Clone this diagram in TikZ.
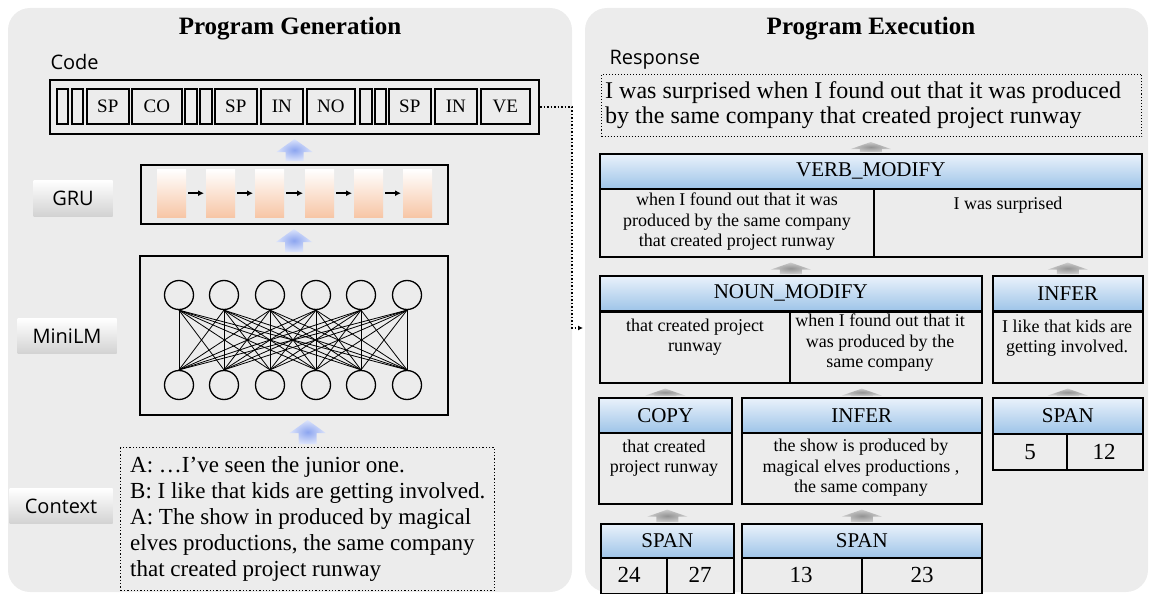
\documentclass[tikz,border=0pt]{standalone}
\usepackage{fontspec}
\setmainfont{Liberation Serif}
\newfontfamily\tagfont{Open Sans}
\usetikzlibrary{positioning,arrows.meta,calc}

\definecolor{panelgray}{RGB}{236,236,236}
\definecolor{hdrtop}{RGB}{234,242,251}
\definecolor{hdrbot}{RGB}{158,196,232}
\definecolor{gruorange}{RGB}{247,198,166}
\definecolor{liftblue}{RGB}{140,165,240}

\tikzset{
  panel/.style={fill=panelgray, rounded corners=22pt},
  ptitle/.style={font=\bfseries\fontsize{25}{28}\selectfont},
  tagtext/.style={font=\tagfont\fontsize{20}{22}\selectfont},
  tagbox/.style={top color=white, bottom color=gray!35, inner sep=0pt, font=\tagfont\fontsize{20}{22}\selectfont},
  tblcell/.style={draw, line width=1.6pt, inner sep=0pt, anchor=north west},
  codecell/.style={tblcell, minimum height=35pt, font=\fontsize{19}{22}\selectfont},
  hdr/.style={tblcell, top color=hdrtop, bottom color=hdrbot, minimum height=35pt, font=\fontsize{21}{24}\selectfont},
  tblbody/.style={tblcell, fill=panelgray},
  txt/.style={align=center, inner sep=0pt, font=\fontsize{18}{20.5}\selectfont},
  num/.style={inner sep=0pt, font=\fontsize{23}{24}\selectfont},
  neuron/.style={circle, draw, line width=1.3pt, minimum size=29pt, inner sep=0pt},
  grubar/.style={top color=white, bottom color=gruorange, minimum width=29pt, minimum height=48pt, inner sep=0pt, anchor=north west},
}

\newcommand{\bluelift}[2]{%
  \path[inner color=liftblue, outer color=liftblue!30!white]
    let \p1=(#1.north), \p2=(#2.south) in
    (\x1-9pt,\y1+3pt) -- (\x1+9pt,\y1+3pt) -- (\x1+9pt,\y2-17pt) -- (\x1+18pt,\y2-17pt)
    -- (\x1,\y2-4pt) -- (\x1-18pt,\y2-17pt) -- (\x1-9pt,\y2-17pt) -- cycle;}
\newcommand{\graylift}[2]{%
  \path[inner color=gray!85, outer color=gray!40]
    let \p1=(#1.north), \p2=(#2.south) in
    (\x1-11pt,\y1+1pt) -- (\x1+11pt,\y1+1pt) -- (\x1+11pt,\y2-12pt) -- (\x1+20pt,\y2-12pt)
    -- (\x1,\y2-5pt) -- (\x1-20pt,\y2-12pt) -- (\x1-11pt,\y2-12pt) -- cycle;}

\begin{document}
\begin{tikzpicture}[x=1pt,y=-1pt]
  \useasboundingbox (0,0) rectangle (1152,594);
  \fill[panel] (8,8) rectangle (572,592);
  \fill[panel] (585,8) rectangle (1148,592);

  % program generation
  \node[ptitle] (gentitle) at (290,29) {Program Generation};
  \node[tagtext, anchor=west] (codetag) at (47,62) {Code};
  \node[draw, line width=2pt, minimum width=489pt, minimum height=54pt, inner sep=0pt, anchor=north west] (code) at (49,79) {};
  \foreach \cx/\cw/\ct [count=\i] in {56/11/{},71/11/{},86/42/SP,131/50/CO,184/12/{},199/12/{},214/42/SP,260/42/IN,306/48/NO,359/12/{},374/11/{},388/42/SP,434/42/IN,480/49/VE}
    \node[codecell, minimum width=\cw pt] (c\i) at (\cx,88) {\ct};

  \node[draw, line width=2pt, minimum width=307pt, minimum height=59pt, anchor=north west] (gru) at (140,164) {};
  \foreach \bx [count=\i] in {157,206,255,305,354,403}
    \node[grubar] (g\i) at (\bx,169) {};
  \foreach \i [evaluate=\i as \j using int(\i+1)] in {1,...,5}
    \draw[line width=1.5pt, -{Latex[length=6pt,width=6pt]}, shorten <=2pt, shorten >=2pt] (g\i) -- (g\j);
  \node[tagbox, minimum width=79pt, minimum height=36pt] (grutag) at (73,198) {GRU};

  \node[draw, line width=2pt, minimum width=308pt, minimum height=159pt, anchor=north west] (lm) at (139,255) {};
  \foreach \nx [count=\i] in {179,224,270,316,361,407} {
    \node[neuron] (t\i) at (\nx,295) {};
    \node[neuron] (b\i) at (\nx,385) {};
  }
  \foreach \i in {1,...,6}
    \foreach \j in {1,...,6}
      \draw[line width=0.8pt] (t\i.south) -- (b\j.north);
  \node[tagbox, minimum width=99pt, minimum height=35pt] (lmtag) at (67,336) {MiniLM};

  \node[draw, dotted, line width=1.3pt, minimum width=374pt, minimum height=143pt, anchor=north west] (ctx) at (120,447) {};
  \node[anchor=west, align=left, inner sep=0pt, font=\fontsize{23}{26}\selectfont] (ctxtext) at (130,519)
    {A: …I've seen the junior one.\\B: I like that kids are getting involved.\\A: The show in produced by magical\\elves productions, the same company\\that created project runway};
  \node[tagbox, minimum width=103pt, minimum height=35pt] (ctxtag) at (61,506) {Context};

  \bluelift{gru}{code}
  \bluelift{lm}{gru}
  \bluelift{ctx}{lm}

  \coordinate (nounin) at (583,328);
  \draw[dotted, line width=1.5pt, -{Latex[length=5pt,width=5pt]}] (code.east) -- ++(32,0) |- (nounin);

  % program execution
  \node[ptitle] (extitle) at (871,29) {Program Execution};
  \node[tagtext, anchor=west] (resptag) at (606,60) {Response};
  \node[draw, dotted, line width=1pt, minimum width=540pt, minimum height=62pt, anchor=north west] (resp) at (601,74) {};
  \node[anchor=west, align=left, inner sep=0pt, font=\fontsize{24}{25}\selectfont] (resptext) at (605,105)
    {I was surprised when I found out that it was produced\\by the same company that created project runway};

  \node[hdr, minimum width=542pt] (vhead) at (599,153) {VERB\_MODIFY};
  \node[tblbody, minimum width=542pt, minimum height=68pt] (vbody) at (599,188) {};
  \draw[line width=1.6pt] (874,188) -- (874,256);
  \node[txt] (vleft) at (737,222) {when I found out that it was\\produced by the same company\\that created project runway};
  \node[txt] (vright) at (1008,205) {I was surprised};

  \node[hdr, minimum width=382pt] (nhead) at (599,275) {NOUN\_MODIFY};
  \node[tblbody, minimum width=382pt, minimum height=71pt] (nbody) at (599,311) {};
  \draw[line width=1.6pt] (790,311) -- (790,382);
  \node[txt] (nleft) at (695,337) {that created project\\runway};
  \node[txt] (nright) at (880,343) {when I found out that it\\was produced by the\\same company};

  \node[hdr, minimum width=150pt] (ihead) at (992,275) {INFER};
  \node[tblbody, minimum width=150pt, minimum height=71pt] (ibody) at (992,311) {};
  \node[txt] (itext) at (1067,338) {I like that kids are\\getting involved.};

  \node[hdr, minimum width=133pt] (chead) at (598,397) {COPY};
  \node[tblbody, minimum width=133pt, minimum height=71pt] (cbody) at (598,432) {};
  \node[txt] (ctext) at (664,458) {that created\\project runway};

  \node[hdr, minimum width=240pt] (mhead) at (741,397) {INFER};
  \node[tblbody, minimum width=240pt, minimum height=71pt] (mbody) at (741,432) {};
  \node[txt] (mtext) at (861,468) {the show is produced by\\magical elves productions ,\\the same company};

  \node[hdr, minimum width=150pt, minimum height=36pt] (rspan) at (992,397) {SPAN};
  \node[tblbody, minimum width=150pt, minimum height=36pt] (rspanbody) at (992,433) {};
  \draw[line width=1.6pt] (1067,433) -- (1067,469);
  \node[num] (rfrom) at (1030,452) {5};
  \node[num] (rto) at (1104,452) {12};

  \node[hdr, minimum width=133pt, minimum height=34pt] (lspan) at (600,523) {SPAN};
  \node[tblbody, minimum width=133pt, minimum height=36pt] (lspanbody) at (600,557) {};
  \draw[line width=1.6pt] (667,557) -- (667,593);
  \node[num] (lfrom) at (629,575) {24};
  \node[num] (lto) at (700,575) {27};

  \node[hdr, minimum width=240pt, minimum height=34pt] (mspan) at (741,523) {SPAN};
  \node[tblbody, minimum width=240pt, minimum height=36pt] (mspanbody) at (741,557) {};
  \draw[line width=1.6pt] (862,557) -- (862,593);
  \node[num] (mfrom) at (801,575) {13};
  \node[num] (mto) at (922,575) {23};

  \graylift{vhead}{resp}
  \graylift{nhead}{vbody}
  \graylift{ihead}{vbody}
  \graylift{chead}{nbody}
  \graylift{mhead}{nbody}
  \graylift{rspan}{ibody}
  \graylift{lspan}{cbody}
  \graylift{mspan}{mbody}
\end{tikzpicture}
\end{document}
